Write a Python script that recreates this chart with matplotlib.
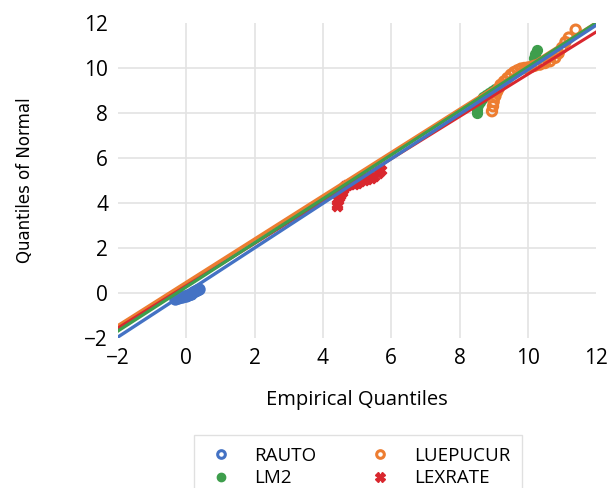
import numpy as np
from matplotlib import pyplot as plt
from matplotlib.lines import Line2D

plt.rcParams['font.family'] = ['Open Sans', 'DejaVu Sans']

# quantile points (empirical, normal)
rauto_x = [-0.32, -0.25, -0.18, -0.12, -0.06, 0.0, 0.05, 0.1, 0.15, 0.2, 0.26, 0.32, 0.38]
rauto_y = [-0.24, -0.22, -0.19, -0.16, -0.14, -0.12, -0.09, -0.05, -0.02, 0.03, 0.08, 0.13, 0.18]

luep_x = [8.95, 8.98, 9.0, 9.05, 9.1, 9.15, 9.2, 9.3, 9.4, 9.5, 9.6, 9.7, 9.8, 9.9, 10.0,
          10.1, 10.2, 10.35, 10.5, 10.65, 10.8, 10.9, 11.0, 11.1, 11.2, 11.4]
luep_y = [8.08, 8.3, 8.5, 8.75, 8.95, 9.1, 9.25, 9.4, 9.55, 9.7, 9.82, 9.9, 9.97, 10.0, 10.02,
          10.05, 10.1, 10.15, 10.22, 10.3, 10.45, 10.65, 10.9, 11.15, 11.35, 11.7]

lm2_x = [8.5, 8.52, 8.55, 8.6, 8.65, 8.7, 8.78, 8.85, 8.95, 9.05, 10.18, 10.22, 10.28]
lm2_y = [7.98, 8.15, 8.35, 8.5, 8.62, 8.72, 8.82, 8.9, 8.98, 9.05, 10.45, 10.62, 10.8]

lexr_x = [4.4, 4.41, 4.43, 4.46, 4.5, 4.55, 4.6, 4.65, 4.72, 4.8, 4.9, 5.0, 5.1, 5.2,
          5.3, 5.4, 5.5, 5.6, 5.7]
lexr_y = [3.85, 3.98, 4.12, 4.25, 4.38, 4.5, 4.62, 4.75, 4.8, 4.83, 4.86, 4.9, 4.97, 5.03,
          5.08, 5.13, 5.22, 5.32, 5.48]

# fitted reference lines (endpoints at x = -2 and 12)
line_x = [-2, 12]
rauto_line = [-1.95, 11.9]
luep_line = [-1.45, 12.0]
lm2_line = [-1.68, 12.0]
lexr_line = [-1.55, 11.6]

blue = '#4472C4'
orange = '#ED7D31'
green = '#3E9E4C'
red = '#D9272E'

fig = plt.figure(figsize=(6.14, 4.88), dpi=100)
ax = fig.add_axes([0.192, 0.307, 0.779, 0.646])

ax.plot(line_x, luep_line, color=orange, lw=2.6, zorder=3)
ax.plot(line_x, lexr_line, color=red, lw=2.2, zorder=3)
ax.plot(line_x, lm2_line, color=green, lw=2.4, zorder=3)
ax.plot(line_x, rauto_line, color=blue, lw=2.4, zorder=3)

ax.scatter(rauto_x, rauto_y, s=55, facecolors=blue, edgecolors=blue, lw=1.5, zorder=2)
ax.scatter(lm2_x, lm2_y, s=50, color=green, zorder=2)
ax.scatter(luep_x, luep_y, s=45, facecolors='none', edgecolors=orange, lw=2.2, zorder=2)
ax.scatter(lexr_x, lexr_y, s=55, marker='X', color=red, zorder=2)

ax.set_xlim(-2, 12)
ax.set_ylim(-2, 12)
ax.set_xticks(range(-2, 13, 2))
ax.set_yticks(range(-2, 13, 2))
ax.grid(True, color='#E3E3E3', lw=1.2, zorder=0)
ax.set_axisbelow(True)
for g in ax.xaxis.get_gridlines()[::len(ax.xaxis.get_gridlines()) - 1]:
    g.set_visible(False)
for g in ax.yaxis.get_gridlines()[::len(ax.yaxis.get_gridlines()) - 1]:
    g.set_visible(False)
for s in ax.spines.values():
    s.set_visible(False)
ax.tick_params(length=0, labelsize=15, colors='black', pad=7)

ax.set_xlabel('Empirical Quantiles', fontsize=14.5, labelpad=15)
ax.set_ylabel('Quantiles of Normal', fontsize=12,
              family=['Liberation Sans Narrow', 'DejaVu Sans'], labelpad=36)

handles = [
    Line2D([], [], ls='none', marker='o', ms=5.5, mfc='white', mec=blue, mew=2.2),
    Line2D([], [], ls='none', marker='o', ms=6, color=green),
    Line2D([], [], ls='none', marker='o', ms=5.5, mfc='white', mec=orange, mew=2.2),
    Line2D([], [], ls='none', marker='X', ms=7, color=red),
]
labels = ['RAUTO', 'LM2', 'LUEPUCUR', 'LEXRATE']
fig.legend(handles, labels, ncol=2, loc='upper center', bbox_to_anchor=(0.583, 0.108),
           frameon=True, fancybox=False, edgecolor='#D9D9D9', fontsize=13.5,
           columnspacing=2.6, handletextpad=1.0, borderpad=0.6, labelspacing=0.25,
           handlelength=1.6, borderaxespad=0)

fig.savefig('out.png', dpi=100)
